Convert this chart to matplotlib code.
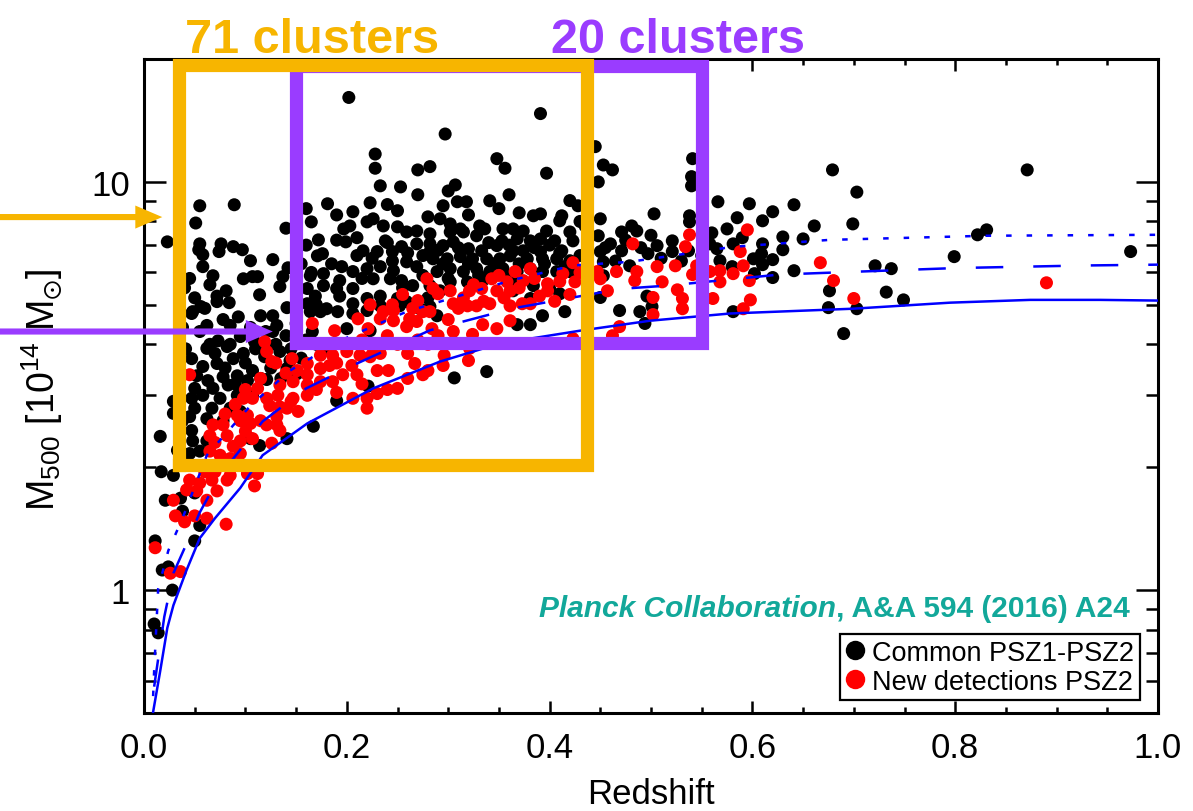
import matplotlib
matplotlib.use("Agg")
import matplotlib.pyplot as plt
from matplotlib.ticker import FixedLocator, NullFormatter, FixedFormatter, MultipleLocator
from matplotlib.lines import Line2D

plt.rcParams['font.family'] = ['Liberation Sans', 'DejaVu Sans']
plt.rcParams['mathtext.default'] = 'regular'

# ---- clusters detected in both PSZ1 and PSZ2 (redshift, M500 in 1e14 Msun)
common_z = [0.202, 0.228, 0.228, 0.270, 0.282, 0.233, 0.253, 0.055, 0.089, 0.181,
            0.223, 0.206, 0.280, 0.051, 0.165, 0.197, 0.203, 0.220, 0.226, 0.236,
            0.250, 0.199, 0.172, 0.238, 0.259, 0.269, 0.282, 0.023, 0.055, 0.076,
            0.088, 0.097, 0.054, 0.058, 0.074, 0.105, 0.127, 0.058, 0.171, 0.176,
            0.216, 0.230, 0.245, 0.254, 0.269, 0.282, 0.068, 0.098, 0.107, 0.112,
            0.142, 0.137, 0.134, 0.164, 0.177, 0.193, 0.206, 0.220, 0.233, 0.246,
            0.259, 0.269, 0.226, 0.243, 0.254, 0.265, 0.206, 0.193, 0.220, 0.233,
            0.250, 0.072, 0.081, 0.084, 0.114, 0.161, 0.169, 0.177, 0.190, 0.048,
            0.056, 0.115, 0.127, 0.141, 0.164, 0.180, 0.191, 0.206, 0.220, 0.252,
            0.282, 0.072, 0.047, 0.062, 0.085, 0.093, 0.131, 0.127, 0.161, 0.174,
            0.206, 0.233, 0.246, 0.259, 0.272, 0.166, 0.200, 0.223, 0.073, 0.095,
            0.109, 0.062, 0.082, 0.047, 0.058, 0.072, 0.088, 0.098, 0.119, 0.134,
            0.144, 0.052, 0.063, 0.078, 0.092, 0.107, 0.141, 0.151, 0.050, 0.068,
            0.083, 0.102, 0.121, 0.029, 0.047, 0.058, 0.075, 0.092, 0.107, 0.050,
            0.067, 0.085, 0.095, 0.045, 0.062, 0.078, 0.029, 0.016, 0.047, 0.048,
            0.062, 0.055, 0.045, 0.141, 0.167, 0.190, 0.221, 0.114, 0.105, 0.017,
            0.029, 0.042, 0.021, 0.036, 0.050, 0.038, 0.055, 0.011, 0.050, 0.058,
            0.391, 0.297, 0.348, 0.356, 0.397, 0.307, 0.295, 0.309, 0.318, 0.341,
            0.445, 0.453, 0.462, 0.448, 0.541, 0.540, 0.540, 0.566, 0.503, 0.450,
            0.538, 0.538, 0.481, 0.486, 0.471, 0.448, 0.575, 0.428, 0.384, 0.391,
            0.412, 0.410, 0.292, 0.302, 0.312, 0.331, 0.336, 0.354, 0.364, 0.374,
            0.397, 0.420, 0.302, 0.315, 0.328, 0.353, 0.368, 0.381, 0.391, 0.405,
            0.423, 0.282, 0.295, 0.305, 0.320, 0.333, 0.348, 0.364, 0.374, 0.391,
            0.412, 0.450, 0.460, 0.471, 0.497, 0.506, 0.521, 0.521, 0.537, 0.558,
            0.565, 0.568, 0.285, 0.299, 0.312, 0.324, 0.338, 0.351, 0.361, 0.378,
            0.393, 0.407, 0.420, 0.453, 0.479, 0.289, 0.302, 0.315, 0.328, 0.341,
            0.354, 0.368, 0.381, 0.393, 0.407, 0.420, 0.302, 0.319, 0.334, 0.364,
            0.384, 0.400, 0.410, 0.450, 0.469, 0.489, 0.501, 0.393, 0.415, 0.453,
            0.496, 0.381, 0.364, 0.292, 0.282, 0.494, 0.381, 0.368, 0.338, 0.306,
            0.289, 0.679, 0.871, 0.703, 0.699, 0.597, 0.641, 0.620, 0.585, 0.610,
            0.661, 0.831, 0.822, 0.581, 0.610, 0.630, 0.650, 0.630, 0.609, 0.601,
            0.620, 0.610, 0.799, 0.973, 0.721, 0.737, 0.641, 0.602, 0.620, 0.676,
            0.732, 0.749, 0.675, 0.703, 0.581, 0.690, 0.018, 0.024, 0.028, 0.010,
            0.014,
            0.035, 0.040, 0.038, 0.041, 0.035, 0.038, 0.033, 0.045, 0.050, 0.055,
            0.060, 0.065, 0.065, 0.070, 0.078, 0.080, 0.085, 0.090, 0.100, 0.105,
            0.110, 0.115, 0.120, 0.125, 0.130, 0.135, 0.140, 0.145, 0.150, 0.155,
            0.160, 0.170, 0.180,
            0.155, 0.160, 0.165, 0.170, 0.185, 0.190, 0.195, 0.210, 0.210, 0.215,
            0.225, 0.240, 0.245, 0.255, 0.260, 0.275, 0.275, 0.280, 0.290, 0.295,
            0.300, 0.310, 0.320, 0.330, 0.340, 0.345, 0.355, 0.360, 0.370, 0.385,
            0.395, 0.400, 0.410, 0.415, 0.430, 0.435, 0.440, 0.455, 0.465, 0.475,
            0.490, 0.500, 0.510, 0.530, 0.550, 0.560, 0.580, 0.590,
            0.250, 0.270, 0.300, 0.320, 0.350, 0.360, 0.370, 0.420, 0.430, 0.240,
            0.190, 0.160, 0.140]
common_m = [16.1, 11.7, 10.8, 10.7, 10.9, 9.78, 9.72, 8.74, 8.79, 8.84,
            8.89, 8.45, 8.21, 7.93, 7.98, 7.67, 7.80, 7.98, 8.12, 7.80,
            7.76, 7.13, 7.21, 7.17, 7.54, 7.58, 7.46, 7.13, 7.05, 7.05,
            6.94, 6.82, 6.82, 6.63, 6.75, 6.41, 6.45, 6.20, 6.59, 6.67,
            6.78, 6.75, 6.75, 6.94, 7.05, 6.75, 5.89, 5.79, 5.86, 5.86,
            6.16, 5.86, 5.54, 5.89, 5.96, 5.73, 6.03, 6.13, 6.20, 6.06,
            6.37, 6.20, 5.79, 5.79, 5.73, 5.57, 5.48, 5.25, 5.18, 5.25,
            5.18, 5.25, 5.41, 5.06, 5.29, 5.48, 5.25, 5.57, 5.48, 4.81,
            4.95, 4.70, 4.70, 4.92, 4.81, 4.89, 4.81, 4.76, 4.84, 4.97,
            4.95, 5.09, 4.76, 4.45, 4.45, 4.67, 4.45, 4.30, 5.03, 4.81,
            5.03, 4.97, 4.89, 5.09, 4.89, 4.30, 4.37, 4.32, 4.08, 4.18,
            4.06, 3.91, 3.95, 3.69, 3.53, 3.59, 3.69, 3.80, 3.73, 3.84,
            3.65, 3.35, 3.26, 3.33, 3.35, 3.45, 3.49, 3.39, 3.12, 3.12,
            3.18, 3.26, 3.28, 2.90, 2.95, 3.00, 2.95, 3.00, 3.00, 2.79,
            2.79, 2.79, 2.74, 2.66, 2.63, 2.60, 2.71, 2.38, 2.46, 2.32,
            2.32, 2.19, 2.16, 2.35, 2.52, 2.91, 3.16, 2.26, 2.35, 1.95,
            1.91, 2.02, 1.66, 1.68, 1.73, 1.56, 1.44, 1.32, 1.32, 2.02,
            14.7, 13.1, 11.4, 10.8, 10.5, 9.83, 8.74, 8.94, 8.94, 8.99,
            12.2, 11.0, 10.7, 10.0, 11.4, 10.3, 9.78, 8.94, 8.35, 8.12,
            8.26, 7.98, 7.80, 7.58, 7.54, 7.38, 7.67, 8.74, 8.26, 8.35,
            8.26, 8.03, 8.12, 7.89, 7.67, 7.80, 7.67, 7.67, 7.67, 7.58,
            7.58, 7.54, 7.54, 7.54, 7.38, 7.17, 7.25, 7.17, 7.25, 7.17,
            7.17, 7.05, 6.98, 7.13, 6.86, 6.78, 6.98, 6.78, 6.78, 6.75,
            6.78, 6.75, 7.05, 6.78, 6.67, 6.98, 7.17, 6.75, 6.78, 7.05,
            6.86, 6.41, 6.48, 6.48, 6.56, 6.48, 6.48, 6.48, 6.59, 6.48,
            6.48, 6.48, 6.41, 6.37, 6.23, 6.03, 6.13, 6.03, 6.13, 6.03,
            6.13, 6.03, 6.13, 6.03, 6.03, 6.03, 5.69, 5.69, 5.73, 5.73,
            5.57, 5.48, 5.32, 5.21, 4.84, 4.81, 4.95, 4.70, 4.81, 5.89,
            5.25, 5.18, 5.41, 5.41, 5.57, 4.50, 4.47, 4.47, 3.43, 3.31,
            4.70, 10.7, 10.7, 9.44, 7.89, 8.84, 8.79, 8.45, 8.17, 8.03,
            7.80, 7.63, 7.42, 7.05, 7.05, 7.33, 7.25, 6.82, 6.67, 6.48,
            6.45, 6.27, 6.56, 6.75, 6.23, 6.13, 6.06, 5.96, 5.83, 5.41,
            5.37, 5.14, 4.92, 4.89, 4.81, 4.25, 1.12, 1.14, 1.00, 0.826,
            0.786,
            6.0, 5.5, 4.4, 3.9, 3.2, 2.6, 2.2, 5.8, 5.2, 4.3,
            4.9, 5.6, 4.0, 3.8, 4.6, 3.5, 4.0, 3.2, 3.6, 4.4,
            3.9, 3.3, 4.3, 3.5, 4.0, 3.3, 4.2, 3.9, 4.5, 3.7,
            4.1, 4.0, 3.9,
            6.3, 7.0, 6.0, 5.0, 6.3, 7.2, 6.2, 7.3, 6.6, 5.8,
            6.5, 7.1, 6.4, 5.5, 6.7, 6.6, 5.9, 5.2, 6.8, 6.3,
            5.8, 6.9, 6.3, 5.9, 7.1, 6.3, 5.9, 7.0, 6.3, 6.9,
            6.3, 7.0, 6.7, 6.2, 6.6, 7.8, 6.0, 6.9, 6.4, 7.2,
            6.9, 7.4, 6.5, 6.4, 6.6, 7.5, 6.2, 7.3,
            8.5, 9.3, 9.5, 8.3, 8.6, 9.3, 8.4, 9.0, 8.0, 8.8,
            8.3, 8.6, 7.7]

# ---- new detections in PSZ2
new_z = [0.223, 0.236, 0.246, 0.270, 0.279, 0.285, 0.282, 0.290, 0.262, 0.275,
         0.166, 0.188, 0.211, 0.221, 0.233, 0.246, 0.259, 0.269, 0.284, 0.119,
         0.121, 0.126, 0.146, 0.161, 0.174, 0.186, 0.200, 0.213, 0.223, 0.233,
         0.151, 0.161, 0.174, 0.183, 0.196, 0.210, 0.230, 0.241, 0.267, 0.275,
         0.045, 0.112, 0.134, 0.147, 0.161, 0.174, 0.186, 0.098, 0.107, 0.121,
         0.132, 0.147, 0.161, 0.206, 0.220, 0.230, 0.250, 0.124, 0.134, 0.141,
         0.152, 0.092, 0.102, 0.131, 0.220, 0.068, 0.078, 0.095, 0.105, 0.121,
         0.131, 0.134, 0.065, 0.082, 0.088, 0.095, 0.107, 0.126, 0.065, 0.075,
         0.095, 0.063, 0.075, 0.085, 0.102, 0.112, 0.109, 0.045, 0.055, 0.067,
         0.042, 0.052, 0.062, 0.072, 0.082, 0.029, 0.050, 0.031, 0.040, 0.062,
         0.081, 0.011, 0.482, 0.534, 0.538, 0.423, 0.413, 0.425, 0.366, 0.381,
         0.374, 0.358, 0.343, 0.333, 0.321, 0.348, 0.361, 0.373, 0.361, 0.341,
         0.381, 0.398, 0.398, 0.302, 0.305, 0.319, 0.328, 0.447, 0.450, 0.466,
         0.457, 0.486, 0.484, 0.506, 0.511, 0.502, 0.524, 0.526, 0.531, 0.531,
         0.545, 0.541, 0.558, 0.568, 0.561, 0.502, 0.462, 0.469, 0.423, 0.320,
         0.296, 0.321, 0.348, 0.361, 0.334, 0.324, 0.305, 0.595, 0.588, 0.591,
         0.581, 0.568, 0.597, 0.598, 0.591, 0.667, 0.680, 0.700, 0.890, 0.026,
         0.036,
         0.200, 0.215, 0.225, 0.240, 0.250, 0.260, 0.270, 0.280, 0.290, 0.300,
         0.310, 0.315, 0.325, 0.335, 0.350, 0.355, 0.370, 0.385, 0.390, 0.405,
         0.410, 0.420, 0.430, 0.245, 0.255, 0.265, 0.180, 0.190, 0.205, 0.140,
         0.130, 0.115, 0.100, 0.090, 0.080, 0.070, 0.085, 0.060, 0.070, 0.115,
         0.100, 0.145, 0.170, 0.190, 0.215, 0.240, 0.260, 0.280, 0.295]
new_m = [5.00, 4.81, 4.84, 5.12, 5.79, 5.48, 4.81, 5.32, 4.62, 4.81,
         4.50, 4.32, 4.62, 4.37, 4.62, 4.57, 4.42, 4.55, 4.37, 4.06,
         3.84, 3.63, 3.69, 3.59, 3.76, 3.76, 3.84, 3.76, 3.73, 3.80,
         3.45, 3.37, 3.49, 3.55, 3.37, 3.37, 3.45, 3.45, 3.59, 3.37,
         3.37, 3.12, 3.18, 3.24, 3.18, 3.24, 3.24, 2.95, 2.95, 2.95,
         3.00, 2.95, 3.00, 2.95, 2.95, 3.03, 3.12, 2.83, 2.81, 2.79,
         2.74, 2.68, 2.68, 2.66, 2.79, 2.54, 2.54, 2.60, 2.56, 2.54,
         2.54, 2.46, 2.39, 2.39, 2.25, 2.32, 2.35, 2.29, 2.19, 2.14,
         2.16, 2.02, 2.02, 1.91, 1.93, 1.93, 1.80, 1.86, 1.83, 1.86,
         1.76, 1.75, 1.66, 1.75, 1.86, 1.66, 1.52, 1.52, 1.47, 1.50,
         1.45, 1.27, 7.05, 6.94, 7.42, 6.34, 5.96, 5.69, 6.03, 6.13,
         5.73, 5.69, 5.79, 5.48, 5.41, 5.41, 5.41, 5.03, 4.97, 5.03,
         5.03, 5.41, 5.63, 5.41, 5.03, 4.97, 4.97, 6.03, 5.79, 6.03,
         5.41, 6.03, 5.73, 6.20, 5.69, 5.21, 6.23, 5.44, 5.18, 4.89,
         6.23, 5.93, 6.03, 6.06, 5.18, 4.73, 4.20, 4.42, 4.13, 3.65,
         3.76, 3.91, 4.37, 4.57, 4.47, 4.23, 4.30, 7.63, 6.75, 6.23,
         5.96, 5.69, 5.73, 5.14, 4.89, 6.34, 5.73, 5.18, 5.66, 1.10,
         1.11,
         4.00, 4.10, 3.95, 4.20, 4.00, 3.80, 4.10, 4.00, 4.20, 4.60,
         4.90, 5.20, 5.60, 5.10, 5.90, 5.20, 5.50, 5.80, 5.25, 5.10,
         5.70, 5.30, 6.00, 5.00, 5.30, 4.90, 4.00, 3.60, 3.55, 3.40,
         3.60, 3.30, 3.10, 2.85, 2.70, 2.30, 2.10, 1.95, 1.95, 2.60,
         2.45, 2.90, 3.10, 3.05, 3.20, 3.10, 3.30, 3.45, 3.55]

# ---- selection-function mass limits
limit_solid_z = [0.009, 0.016, 0.023, 0.029, 0.042, 0.055, 0.070, 0.095, 0.117, 0.161,
                 0.226, 0.292, 0.351, 0.430, 0.499, 0.578, 0.699, 0.795, 0.874, 0.943, 1.0]
limit_solid_m = [0.503, 0.634, 0.808, 0.918, 1.12, 1.34, 1.50, 1.78, 2.14, 2.56,
                 3.12, 3.63, 4.02, 4.32, 4.57, 4.76, 4.89, 5.06, 5.14, 5.14, 5.12]
limit_dash_z = [0.010, 0.020, 0.029, 0.042, 0.055, 0.075, 0.117, 0.160, 0.210, 0.282,
                0.364, 0.470, 0.516, 0.627, 0.706, 0.800, 0.926, 1.0]
limit_dash_m = [0.58, 0.86, 1.10, 1.30, 1.55, 1.91, 2.59, 3.12, 3.59, 4.33,
                4.90, 5.47, 5.57, 5.93, 6.03, 6.15, 6.24, 6.27]
limit_dot_z = [0.009, 0.010, 0.014, 0.024, 0.038, 0.062, 0.105, 0.144, 0.193, 0.259,
               0.361, 0.423, 0.479, 0.520, 0.580, 0.676, 0.830, 1.0]
limit_dot_m = [0.55, 0.634, 1.01, 1.25, 1.50, 2.14, 2.83, 3.45, 4.08, 4.81,
               5.73, 6.24, 6.37, 6.59, 6.93, 7.21, 7.38, 7.42]

# ---- highlighted sub-samples (redshift range, mass range, label)
orange_box = ([0.035, 0.437], [2.03, 19.3], '71 clusters')
purple_box = ([0.150, 0.550], [4.02, 19.2], '20 clusters')
orange_arrow_m = 8.2
purple_arrow_m = 4.30

ORANGE = '#F7B500'
PURPLE = '#9A3CFF'
BLUE = '#0000FF'
TEAL = '#12A89A'

x_ticks = [0.0, 0.2, 0.4, 0.6, 0.8, 1.0]
x_tick_labels = ['0.0', '0.2', '0.4', '0.6', '0.8', '1.0']
y_major = [1, 10]
y_major_labels = ['1', '10']
y_minor = [0.5, 0.6, 0.7, 0.8, 0.9, 2, 3, 4, 5, 6, 7, 8, 9, 20]

fig = plt.figure(figsize=(11.93, 8.12), dpi=100)
ax = fig.add_axes([144 / 1193, 1 - 714 / 812, 1014 / 1193, 654 / 812])
ax.set_yscale('log')
ax.set_xlim(0.0, 1.0)
ax.set_ylim(0.5, 20)

ax.scatter(common_z, common_m, s=88, c='black', edgecolors='none', zorder=2)
ax.scatter(new_z, new_m, s=88, c='red', edgecolors='none', zorder=2.5)

ax.plot(limit_solid_z, limit_solid_m, color=BLUE, lw=1.8, zorder=3)
ax.plot(limit_dash_z, limit_dash_m, color=BLUE, lw=1.8, dashes=(11, 12), zorder=3)
ax.plot(limit_dot_z, limit_dot_m, color=BLUE, lw=1.8, dashes=(2.2, 6), zorder=3)

# boxes around the sub-samples
for (zr, mr, _), col, zo in ((purple_box, PURPLE, 4), (orange_box, ORANGE, 5)):
    ax.plot([zr[0], zr[1], zr[1], zr[0], zr[0]], [mr[0], mr[0], mr[1], mr[1], mr[0]],
            color=col, lw=9.5, solid_joinstyle='miter', solid_capstyle='projecting',
            clip_on=False, zorder=zo)

fig.text(0.2615, 1 - 53 / 812, orange_box[2], color=ORANGE, fontsize=35,
         fontweight='bold', ha='center', va='baseline')
fig.text(0.568, 1 - 53 / 812, purple_box[2], color=PURPLE, fontsize=35,
         fontweight='bold', ha='center', va='baseline')

# arrows marking the mass thresholds
for m, zt, col in ((orange_arrow_m, 0.018, ORANGE), (purple_arrow_m, 0.127, PURPLE)):
    ax.annotate('', xy=(zt, m), xycoords='data',
                xytext=(0.0, m), textcoords=('figure fraction', 'data'),
                arrowprops=dict(arrowstyle='simple,head_length=0.97,head_width=0.83,tail_width=0.22',
                                fc=col, ec='none', mutation_scale=20,
                                shrinkA=0, shrinkB=0),
                annotation_clip=False, zorder=6)

# axes styling
ax.xaxis.set_major_locator(FixedLocator(x_ticks))
ax.xaxis.set_major_formatter(FixedFormatter(x_tick_labels))
ax.xaxis.set_minor_locator(MultipleLocator(0.05))
ax.yaxis.set_major_locator(FixedLocator(y_major))
ax.yaxis.set_major_formatter(FixedFormatter(y_major_labels))
ax.yaxis.set_minor_locator(FixedLocator(y_minor))
ax.yaxis.set_minor_formatter(NullFormatter())

for sp in ax.spines.values():
    sp.set_linewidth(2.2)
ax.tick_params(axis='both', which='both', direction='in', top=True, right=True,
               width=1.8, labelsize=25)
ax.tick_params(axis='x', which='major', length=8.5, pad=13)
ax.tick_params(axis='x', which='minor', length=4.5)
ax.tick_params(axis='y', which='major', length=16, pad=10)
ax.tick_params(axis='y', which='minor', length=8.5)

ax.set_xlabel('Redshift', fontsize=25)
ax.xaxis.set_label_coords(0.5, -0.098)
ax.set_ylabel(r'M$_{500}$ [10$^{14}$ M$_{\odot}$]', fontsize=27)
ax.yaxis.set_label_coords(-0.078, 0.495)

# reference note
ref = ax.text(0.972, 0.148, ', A&A 594 (2016) A24', transform=ax.transAxes,
              color=TEAL, fontsize=21.5, fontweight='bold', ha='right', va='baseline',
              zorder=7)
ax.annotate('Planck Collaboration', xy=(0, 0.148), xycoords=(ref, 'axes fraction'),
            color=TEAL, fontsize=21.5, fontweight='bold', fontstyle='italic',
            ha='right', va='baseline', zorder=7)

handles = [Line2D([], [], ls='none', marker='o', ms=14, mfc='black', mec='none'),
           Line2D([], [], ls='none', marker='o', ms=14, mfc='red', mec='none')]
leg = ax.legend(handles, ['Common PSZ1-PSZ2', 'New detections PSZ2'],
                loc='lower right', bbox_to_anchor=(0.982, 0.020), fontsize=19.5,
                frameon=True, fancybox=False, framealpha=1, edgecolor='black',
                handlelength=0.7, handletextpad=0.3, borderpad=0.2,
                labelspacing=0.1, borderaxespad=0)
leg.get_frame().set_linewidth(1.6)
leg.set_zorder(7)

fig.savefig('out.png', dpi=100)
